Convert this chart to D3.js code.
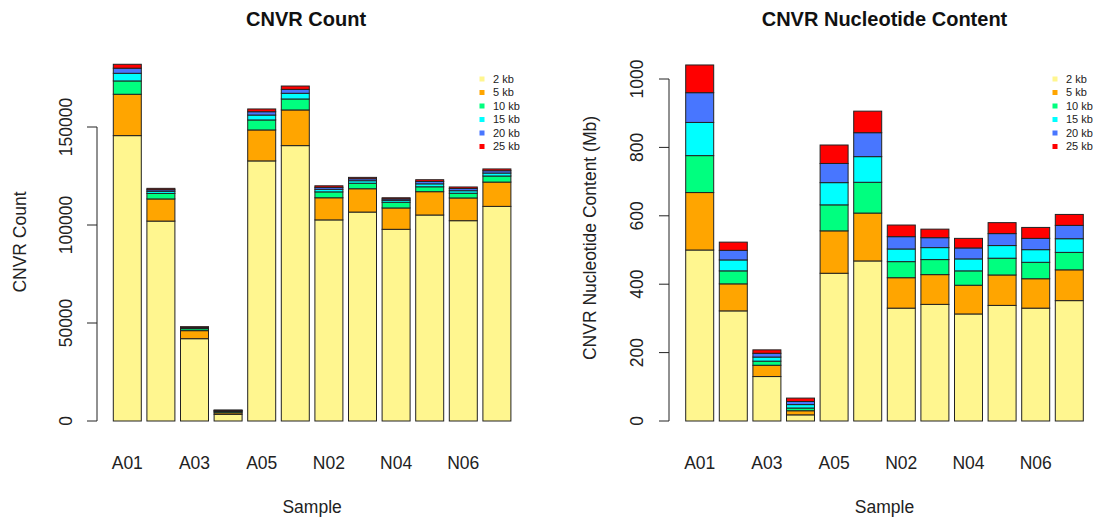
<!DOCTYPE html>
<html>
<head>
<meta charset="utf-8">
<script src="https://cdn.jsdelivr.net/npm/d3@7"></script>
<style>
  html, body { margin: 0; padding: 0; background: #fff; }
  svg { display: block; font-family: "Liberation Sans", Arial, sans-serif; }
</style>
</head>
<body>
<svg id="chart" width="1102" height="523"></svg>
<script>
// Samples and CNVR size classes
const samples = ["A01", "A02", "A03", "A04", "A05", "N01", "N02", "N03", "N04", "N05", "N06", "N07"];
const sizeClasses = ["2 kb", "5 kb", "10 kb", "15 kb", "20 kb", "25 kb"];
const classColors = ["#FFF68F", "#FFA500", "#00FF7F", "#00FFFF", "#4876FF", "#FF0000"];

// CNVR counts per size class
const count2kb  = [145600, 102000, 42000, 3400, 132700, 140500, 102600, 106600, 97800, 105100, 102200, 109500];
const count5kb  = [21100, 11300, 4100, 800, 15800, 18200, 11300, 11900, 10900, 11900, 11600, 12400];
const count10kb = [6800, 2800, 1000, 600, 5100, 5600, 3000, 2800, 2900, 2500, 2400, 3100];
const count15kb = [3900, 1100, 500, 400, 2500, 2900, 1300, 1300, 1000, 1500, 1300, 1500];
const count20kb = [2600, 800, 300, 250, 1700, 2000, 1000, 1000, 700, 1200, 1100, 1200];
const count25kb = [2000, 700, 200, 150, 1400, 1700, 800, 700, 600, 900, 800, 900];

// CNVR nucleotide content (Mb) per size class
const content2kb  = [500, 322, 130, 18, 432, 468, 330, 341, 313, 338, 330, 352];
const content5kb  = [168, 79, 33, 12, 124, 140, 89, 87, 84, 89, 86, 90];
const content10kb = [108, 38, 12, 8, 76, 90, 47, 44, 42, 49, 48, 51];
const content15kb = [97, 32, 12, 10, 65, 75, 37, 35, 35, 37, 37, 40];
const content20kb = [87, 28, 11, 9, 56, 70, 36, 29, 32, 35, 33, 39];
const content25kb = [81, 24, 10, 10, 54, 63, 34, 25, 28, 32, 32, 32];

const countTicks = [0, 50000, 100000, 150000];
const contentTicks = [0, 200, 400, 600, 800, 1000];

const svg = d3.select("#chart");
svg.append("rect").attr("width", 1102).attr("height", 523).attr("fill", "#fff");

function buildRows(series) {
  return samples.map((s, i) => {
    const row = { sample: s };
    sizeClasses.forEach((k, j) => { row[k] = series[j][i]; });
    return row;
  });
}

function drawPanel(cfg) {
  const g = svg.append("g");
  const rows = buildRows(cfg.series);
  const stack = d3.stack().keys(sizeClasses)(rows);

  const x = d3.scaleBand()
    .domain(samples)
    .range(cfg.xRange)
    .paddingInner(0.2 / 1.2)
    .paddingOuter(0);

  const y = d3.scaleLinear().domain([0, cfg.yRef]).range([421, cfg.yRefPx]);

  // stacked bars
  stack.forEach((layer, li) => {
    g.append("g")
      .attr("fill", classColors[li])
      .selectAll("rect")
      .data(layer)
      .join("rect")
      .attr("x", d => x(d.data.sample))
      .attr("width", x.bandwidth())
      .attr("y", d => y(d[1]))
      .attr("height", d => y(d[0]) - y(d[1]))
      .attr("stroke", "#222")
      .attr("stroke-width", 1);
  });

  // y axis: line spans the tick range, labels parallel to the axis
  const ticks = cfg.ticks;
  const ax = g.append("g").attr("transform", `translate(${cfg.axisX},0)`);
  ax.append("line")
    .attr("x1", 0).attr("x2", 0)
    .attr("y1", y(ticks[0])).attr("y2", y(ticks[ticks.length - 1]))
    .attr("stroke", "#222").attr("stroke-width", 1);
  ax.selectAll("line.tick").data(ticks).join("line")
    .attr("class", "tick")
    .attr("x1", 0).attr("x2", -10)
    .attr("y1", d => y(d)).attr("y2", d => y(d))
    .attr("stroke", "#222").attr("stroke-width", 1);
  ax.selectAll("text").data(ticks).join("text")
    .attr("transform", d => `translate(${cfg.tickLabelX - cfg.axisX},${y(d)}) rotate(-90)`)
    .attr("text-anchor", "middle")
    .attr("dy", "0.35em")
    .attr("font-size", 17.5)
    .attr("fill", "#222")
    .text(d => d);

  // sample labels (every other one fits)
  g.selectAll("text.xlab")
    .data(samples.filter((s, i) => i % 2 === 0))
    .join("text")
    .attr("class", "xlab")
    .attr("x", d => x(d) + x.bandwidth() / 2)
    .attr("y", 463)
    .attr("dy", "0.35em")
    .attr("text-anchor", "middle")
    .attr("font-size", 17.5)
    .attr("fill", "#222")
    .text(d => d);

  // axis titles
  const midX = (cfg.xRange[0] + cfg.xRange[1]) / 2;
  g.append("text")
    .attr("x", midX).attr("y", 507).attr("dy", "0.35em")
    .attr("text-anchor", "middle").attr("font-size", 17.5).attr("fill", "#222")
    .text("Sample");
  g.append("text")
    .attr("transform", `translate(${cfg.yTitleX},${cfg.yTitleY}) rotate(-90)`)
    .attr("text-anchor", "middle").attr("dy", "0.35em")
    .attr("font-size", 17.5).attr("fill", "#222")
    .text(cfg.yTitle);
  g.append("text")
    .attr("x", midX + cfg.titleShift).attr("y", 19).attr("dy", "0.35em")
    .attr("text-anchor", "middle").attr("font-size", 20)
    .attr("font-weight", "bold").attr("fill", "#111")
    .text(cfg.title);

  // legend
  const lg = g.append("g");
  sizeClasses.forEach((k, i) => {
    const yy = 79 + i * 13.5;
    lg.append("rect")
      .attr("x", cfg.legendX - 2.5).attr("y", yy - 2.5)
      .attr("width", 5).attr("height", 5)
      .attr("fill", classColors[i]);
    lg.append("text")
      .attr("x", cfg.legendX + 11).attr("y", yy).attr("dy", "0.35em")
      .attr("font-size", 11).attr("fill", "#222")
      .text(k);
  });
}

drawPanel({
  series: [count2kb, count5kb, count10kb, count15kb, count20kb, count25kb],
  xRange: [113.3, 510.9],
  yRef: 150000, yRefPx: 127,
  ticks: countTicks,
  axisX: 97, tickLabelX: 66,
  yTitle: "CNVR Count", yTitleX: 20, yTitleY: 242,
  title: "CNVR Count", titleShift: -6,
  legendX: 482
});

drawPanel({
  series: [content2kb, content5kb, content10kb, content15kb, content20kb, content25kb],
  xRange: [685.7, 1083.3],
  yRef: 1000, yRefPx: 79,
  ticks: contentTicks,
  axisX: 669, tickLabelX: 637,
  yTitle: "CNVR Nucleotide Content (Mb)", yTitleX: 590, yTitleY: 238,
  title: "CNVR Nucleotide Content", titleShift: 0,
  legendX: 1055
});
</script>
</body>
</html>
